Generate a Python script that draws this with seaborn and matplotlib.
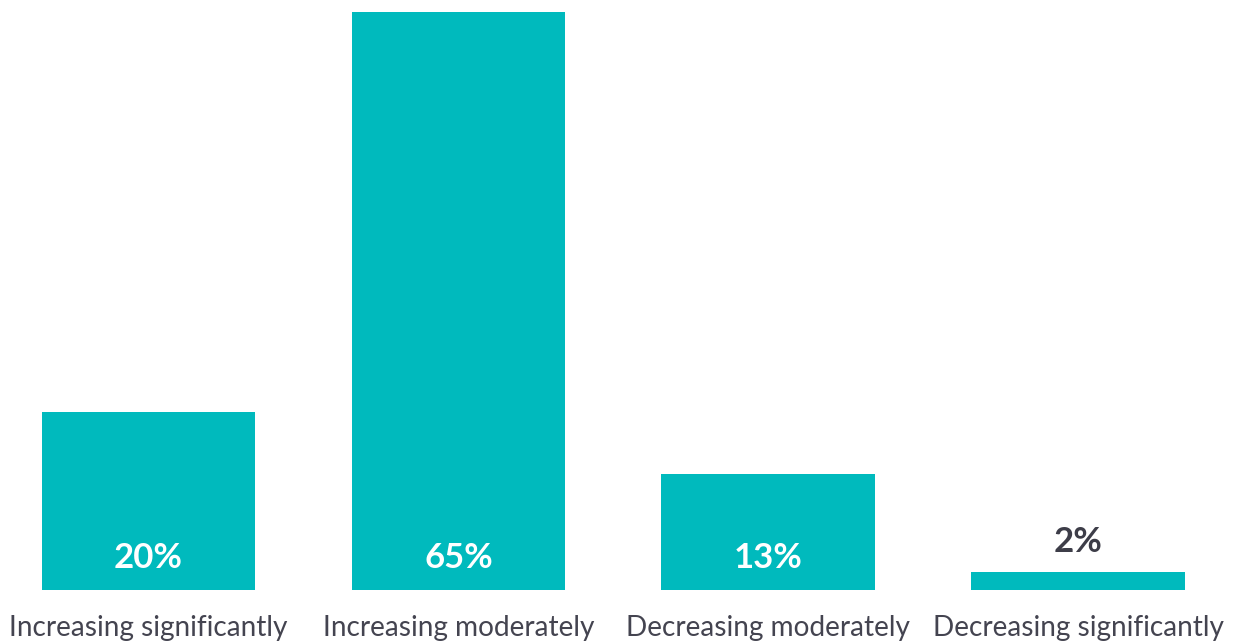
import matplotlib
matplotlib.use("Agg")
import matplotlib.pyplot as plt
import seaborn as sns
import pandas as pd

categories = ["Increasing significantly", "Increasing moderately",
              "Decreasing moderately", "Decreasing significantly"]
values = [20, 65, 13, 2]
value_labels = ["20%", "65%", "13%", "2%"]

BAR_COLOR = "#00BABD"
TEXT_DARK = "#3d3d48"

sns.set_theme(style="white")
plt.rcParams["font.family"] = ["Lato", "DejaVu Sans"]

df = pd.DataFrame({"category": categories, "value": values})

fig = plt.figure(figsize=(12.34, 6.41), dpi=100)
ax = fig.add_axes([0, 51 / 641, 1, 590 / 641])

sns.barplot(data=df, x="category", y="value", color=BAR_COLOR,
            width=0.69, saturation=1, linewidth=0, ax=ax)

ax.set_xlim(-0.479, 3.502)
ax.set_ylim(0, 66.35)

# Value labels: inside the bar when it is tall enough, otherwise above it
for i, (v, lab) in enumerate(zip(values, value_labels)):
    if v >= 5:
        ax.annotate(lab, (i, 0), xytext=(0, 23), textcoords="offset points",
                    ha="center", va="center", color="white",
                    fontsize=25, fontweight="bold")
    else:
        ax.annotate(lab, (i, v), xytext=(0, 21.5), textcoords="offset points",
                    ha="center", va="center", color=TEXT_DARK,
                    fontsize=25, fontweight="bold")

ax.set_xlabel("")
ax.set_ylabel("")
ax.set_yticks([])
ax.tick_params(axis="x", length=0, pad=18, labelsize=20.2, labelcolor="#444450")
for s in ax.spines.values():
    s.set_visible(False)

fig.savefig("out.png", dpi=100)
